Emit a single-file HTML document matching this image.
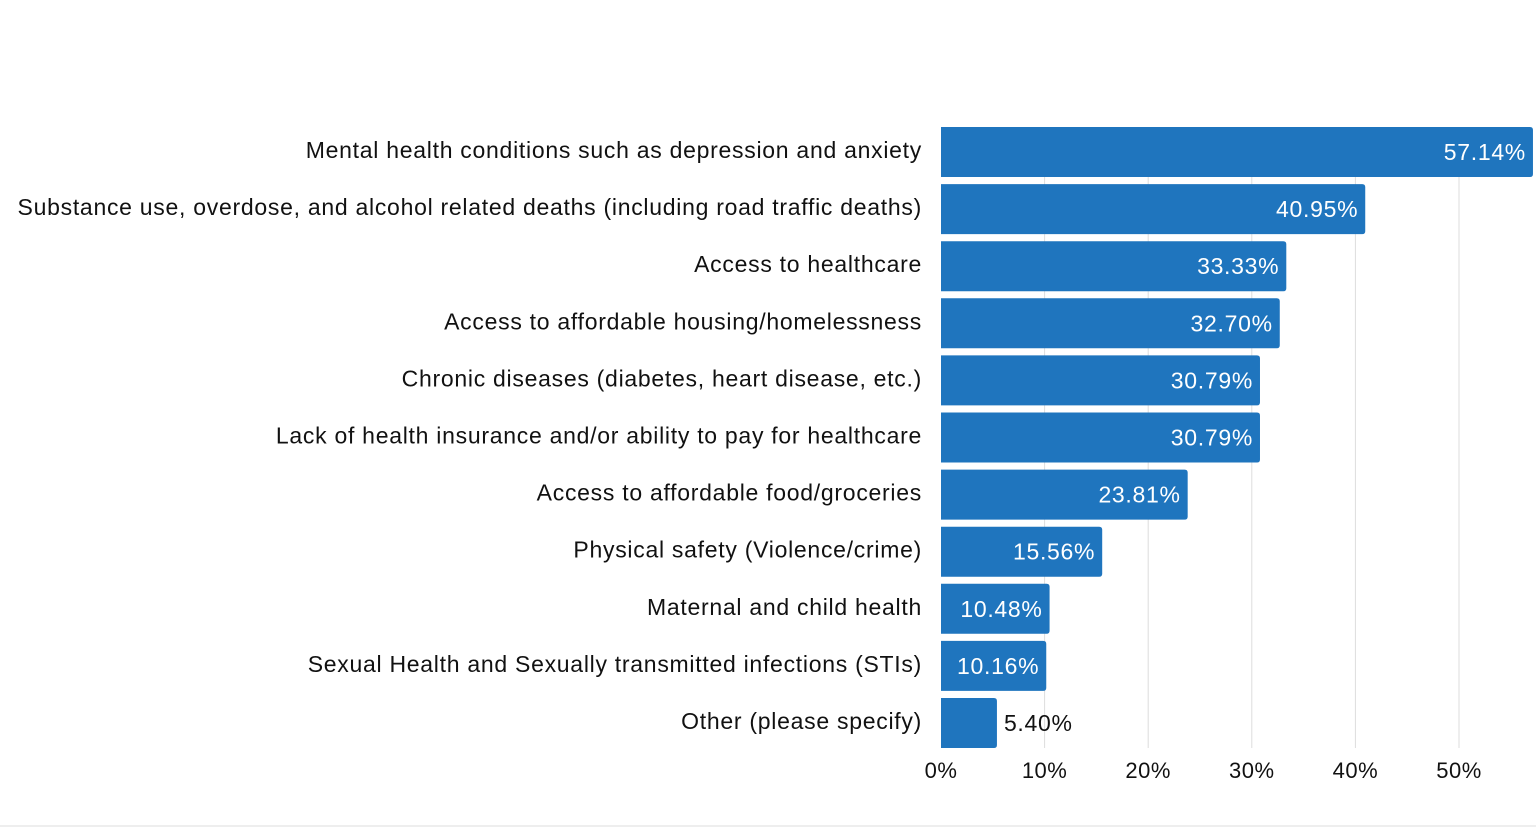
<!DOCTYPE html>
<html><head><meta charset="utf-8"><style>
html,body{margin:0;padding:0;background:#fff;}
svg{display:block;font-family:"Liberation Sans",sans-serif;}
</style></head><body>
<svg id="chart" width="1536" height="827" viewBox="0 0 1536 827" xmlns="http://www.w3.org/2000/svg">
<rect x="0" y="825" width="1536" height="2" fill="#eeeeee"/>
<g id="grid"></g><g id="bars"></g><g id="labels"></g><g id="ticks"></g>
</svg>
<script>
const categories = ["Mental health conditions such as depression and anxiety","Substance use, overdose, and alcohol related deaths (including road traffic deaths)","Access to healthcare","Access to affordable housing/homelessness","Chronic diseases (diabetes, heart disease, etc.)","Lack of health insurance and/or ability to pay for healthcare","Access to affordable food/groceries","Physical safety (Violence/crime)","Maternal and child health","Sexual Health and Sexually transmitted infections (STIs)","Other (please specify)"];
const values = [57.14,40.95,33.33,32.70,30.79,30.79,23.81,15.56,10.48,10.16,5.40];
const valueLabels = ["57.14%","40.95%","33.33%","32.70%","30.79%","30.79%","23.81%","15.56%","10.48%","10.16%","5.40%"];
const ticks = [0,10,20,30,40,50];
const tickLabels = ["0%","10%","20%","30%","40%","50%"];

const NS="http://www.w3.org/2000/svg";
const x0=941, pxPer=10.36, top0=127, step=57.1, bh=50;
const xs=v=>x0+v*pxPer;
const ys=i=>top0+i*step;
function mk(t,a,p){const e=document.createElementNS(NS,t);for(const k in a)e.setAttribute(k,a[k]);p.appendChild(e);return e;}
const grid=document.getElementById('grid'),bars=document.getElementById('bars'),labels=document.getElementById('labels'),tk=document.getElementById('ticks');
ticks.forEach((t,i)=>{
  if(t>0){const l=mk('line',{x1:xs(t),x2:xs(t),y1:top0,y2:ys(categories.length-1)+bh,stroke:'#dddddd','stroke-width':1},grid);
  
  }
  const tx=mk('text',{x:xs(t),y:778,'text-anchor':'middle','font-size':22,'letter-spacing':0.5,fill:'#111'},tk);
  tx.textContent=tickLabels[i];
  
  
});
categories.forEach((c,i)=>{
  const y=ys(i), w=xs(values[i])-x0;
  const r=mk('path',{d:`M${x0},${y}H${x0+w-3}Q${x0+w},${y} ${x0+w},${y+3}V${y+bh-3}Q${x0+w},${y+bh} ${x0+w-3},${y+bh}H${x0}Z`,fill:'#1f75be'},bars);
  
  
  const lb=mk('text',{x:922,y:y+bh/2+6,'text-anchor':'end','font-size':23,'letter-spacing':0.72,fill:'#111'},labels);
  lb.textContent=c;
  
  
  const inside=w>80;
  const vl=mk('text',{x:inside?x0+w-7:x0+w+7,y:y+bh/2+8,'text-anchor':inside?'end':'start','font-size':23,'letter-spacing':0.7,fill:inside?'#fff':'#111'},labels);
  vl.textContent=valueLabels[i];
  
  
});
</script>
</body></html>
